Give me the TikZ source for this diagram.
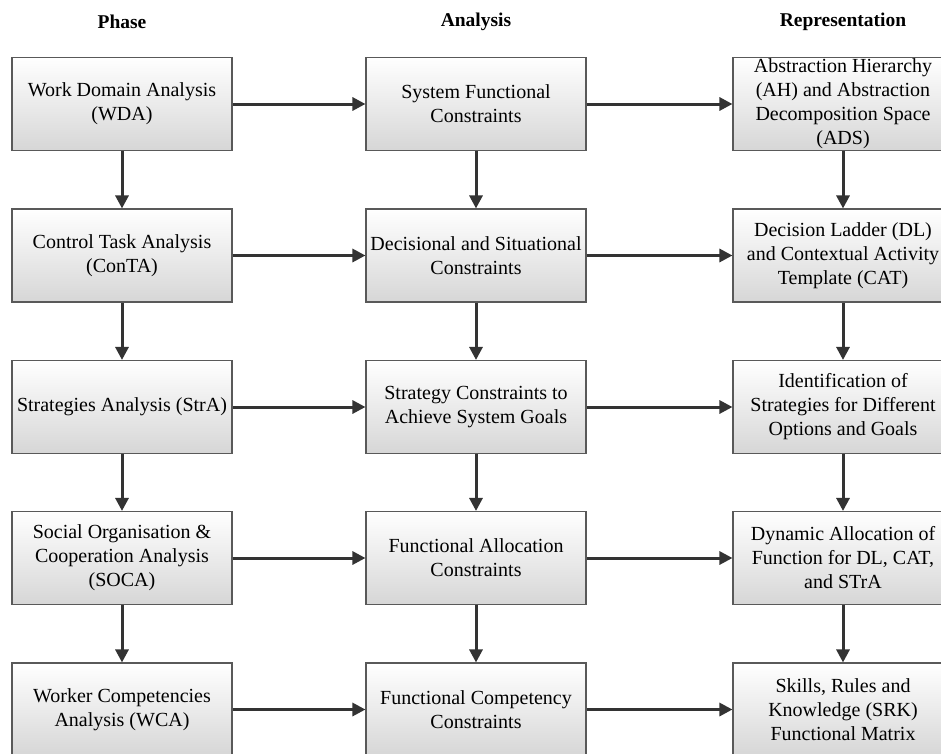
\documentclass[tikz,border=0pt]{standalone}
\usepackage{fontspec}
\setmainfont{Liberation Serif}
\usetikzlibrary{arrows.meta}
\begin{document}
\begin{tikzpicture}[x=1pt,y=-1pt,
  stagebox/.style={draw=black!65, line width=1.1pt, top color=white, bottom color=black!16,
    minimum width=220pt, minimum height=93pt, inner sep=0pt, align=center,
    font=\fontsize{20}{24}\selectfont},
  header/.style={font=\fontsize{19.5}{23}\selectfont\bfseries},
  flow/.style={draw=black!80, line width=3pt, -{Triangle[length=13pt,width=13pt]}}
]
\useasboundingbox (0,0) rectangle (941,753);
\clip (0,0) rectangle (941,753);
\fill[white] (0,0) rectangle (941,753);

% column headers
\node[header] (hphase) at (122,22) {Phase};
\node[header] (hanal)  at (476,22) {Analysis};
\node[header] (hrep)   at (843,22) {Representation};

% phase column
\node[stagebox] (p1) at (122,104)   {Work Domain Analysis\\(WDA)};
\node[stagebox] (p2) at (122,255.5) {Control Task Analysis\\(ConTA)};
\node[stagebox] (p3) at (122,407)   {Strategies Analysis (StrA)};
\node[stagebox] (p4) at (122,558)   {Social Organisation \&\\Cooperation Analysis\\(SOCA)};
\node[stagebox] (p5) at (122,709.5) {Worker Competencies\\Analysis (WCA)};

% analysis column
\node[stagebox] (a1) at (476,104)   {System Functional\\Constraints};
\node[stagebox] (a2) at (476,255.5) {Decisional and Situational\\Constraints};
\node[stagebox] (a3) at (476,407)   {Strategy Constraints to\\Achieve System Goals};
\node[stagebox] (a4) at (476,558)   {Functional Allocation\\Constraints};
\node[stagebox] (a5) at (476,709.5) {Functional Competency\\Constraints};

% representation column
\node[stagebox] (r1) at (843,104)   {Abstraction Hierarchy\\(AH) and Abstraction\\Decomposition Space\\(ADS)};
\node[stagebox] (r2) at (843,255.5) {Decision Ladder (DL)\\and Contextual Activity\\Template (CAT)};
\node[stagebox] (r3) at (843,407)   {Identification of\\Strategies for Different\\Options and Goals};
\node[stagebox] (r4) at (843,558)   {Dynamic Allocation of\\Function for DL, CAT,\\and STrA};
\node[stagebox] (r5) at (843,709.5) {Skills, Rules and\\Knowledge (SRK)\\Functional Matrix};

% vertical flow
\foreach \c in {p,a,r}{
  \draw[flow] (\c1) -- (\c2);
  \draw[flow] (\c2) -- (\c3);
  \draw[flow] (\c3) -- (\c4);
  \draw[flow] (\c4) -- (\c5);
}
% horizontal flow
\foreach \i in {1,...,5}{
  \draw[flow] (p\i) -- (a\i);
  \draw[flow] (a\i) -- (r\i);
}
\end{tikzpicture}
\end{document}
